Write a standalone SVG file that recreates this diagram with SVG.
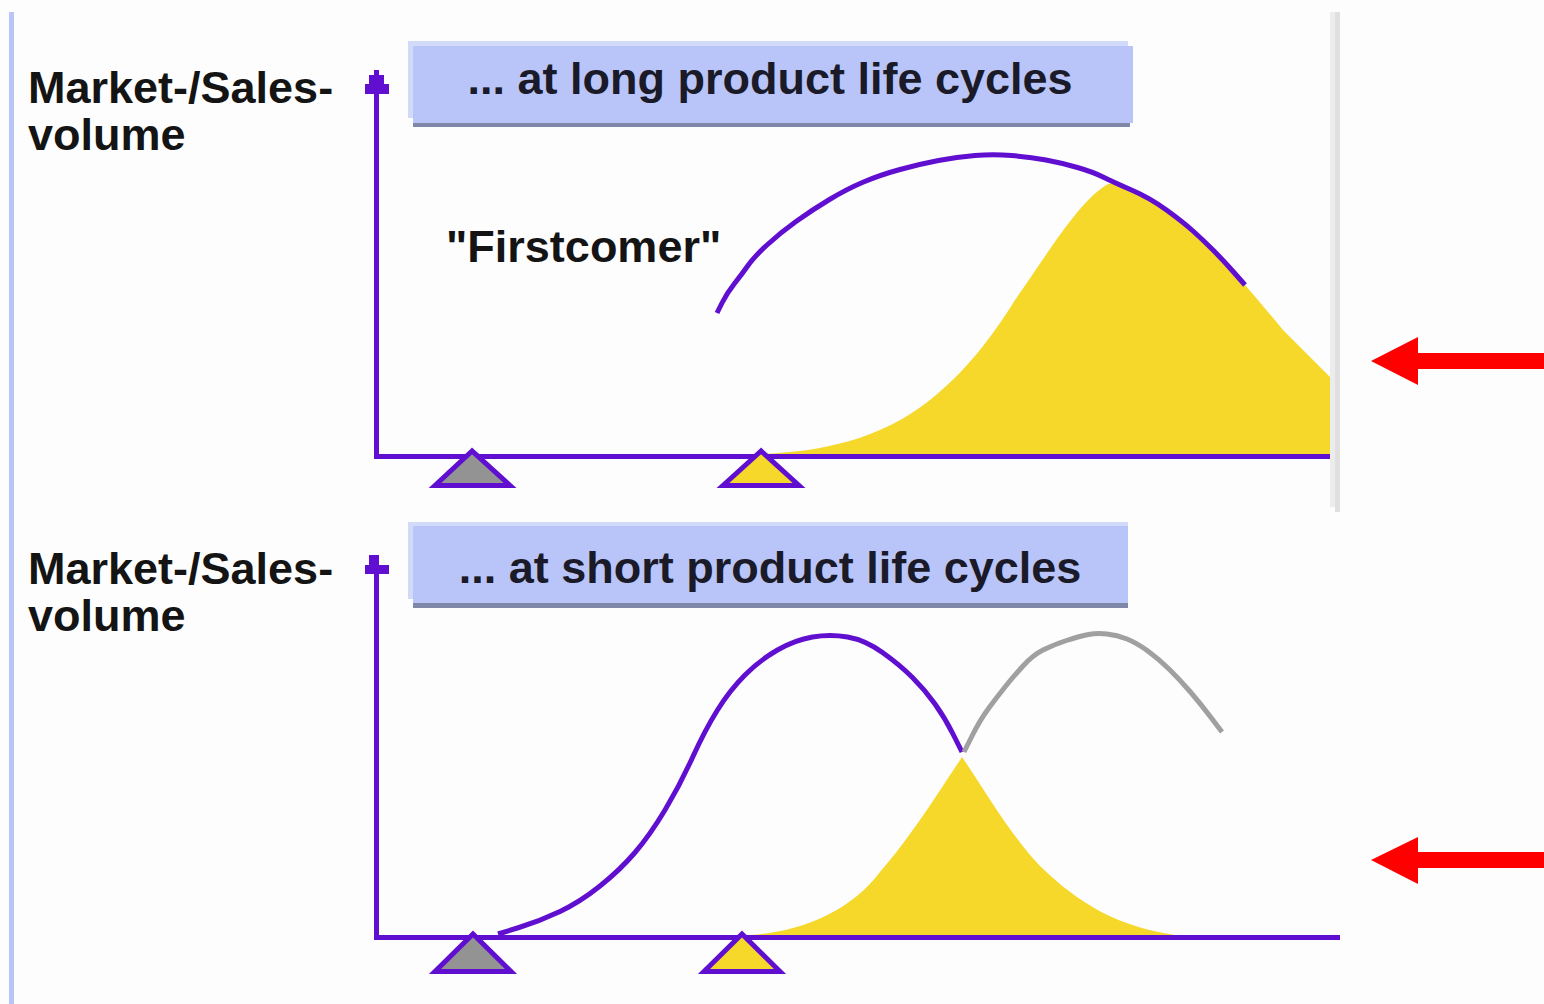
<svg xmlns="http://www.w3.org/2000/svg" width="1544" height="1004" viewBox="0 0 1544 1004">
<style>
  text { font-family: "Liberation Sans", Arial, sans-serif; font-weight: bold; font-size: 45px; fill: #141414; }
  .title { text-anchor: middle; fill: #1a1a28; }
  .axis { stroke: #600fd0; stroke-width: 5; fill: none; }
  .curve { stroke: #600fd0; stroke-width: 5; fill: none; stroke-linejoin: round; stroke-linecap: butt; }
  .gcurve { stroke: #a0a0a0; stroke-width: 5; fill: none; stroke-linejoin: round; }
  .fill { fill: #f5d82a; }
  .tri { stroke: #600fd0; stroke-width: 5; stroke-linejoin: miter; }
  .boxlight { fill: #d2daf9; }
  .box { fill: #b9c5f9; }
  .boxshadow { fill: #7f88a8; }
  .red { fill: #ff0000; }
  .arrowhead { fill: #600fd0; }
</style>
<rect width="1544" height="1004" fill="#fdfdfd"/>
<g id="frame">
  <rect x="9" y="12" width="5" height="992" fill="#b9c5f9"/>
  <rect x="1330" y="12" width="5" height="495" fill="#ececec"/>
  <rect x="1335" y="12" width="5" height="500" fill="#e0e0e0"/>
</g>
<g id="panel-top">
  <g id="top-fill"><path class="fill" d="M760 454 C 820 452, 880 440, 930 400 C 965 372, 990 340, 1015 300 C 1050 250, 1080 200, 1108 184 Q1113 182 1131.5 190 Q1150 198 1166.5 210 Q1183 222 1193 231 Q1203 240 1213 250 Q1223 260 1234 272.5 L1245 285 Q1265 308 1283 330 L1330 377 L1330 454 Z"/></g>
  <g id="top-axes">
    <polyline class="axis" points="376.5,90 376.5,456.5 1330,456.5"/>
    <path class="arrowhead" d="M374 70 H379 V75 H384 V84 H389 V94 H365 V84 H369 V75 H374 Z"/>
  </g>
  <g id="top-title">
    <rect class="boxlight" x="408" y="41" width="720" height="77"/>
    <rect class="box" x="413" y="46" width="720" height="77"/>
    <rect class="boxshadow" x="413" y="123" width="717" height="4"/>
    <text class="title" x="770" y="94">... at long product life cycles</text>
  </g>
  <g id="top-ylabel">
    <text x="28" y="103">Market-/Sales-</text>
    <text x="28" y="150">volume</text>
  </g>
  <g id="top-firstcomer"><text x="446" y="262">"Firstcomer"</text></g>
  <g id="top-curve"><path class="curve" d="M717 313 L722 303 Q727 293 734.5 283.5 Q742 274 748 265.5 Q754 257 767 245 Q780 233 796 221.5 Q812 210 829.5 199.5 Q847 189 863.5 182 Q880 175 900 169.5 Q920 164 938.5 160.5 Q957 157 975 155.5 Q993 154 1011.5 155.5 Q1030 157 1046 160 Q1062 163 1077.5 167.5 Q1093 172 1103 177 Q1113 182 1131.5 190 Q1150 198 1166.5 210 Q1183 222 1193 231 Q1203 240 1213 250 Q1223 260 1234 272.5 L1245 285"/></g>
  <g id="top-tri-gray"><polygon class="tri" fill="#939393" points="472,451 435,485.5 510,485.5"/></g>
  <g id="top-tri-yellow"><polygon class="tri" fill="#f5d82a" points="761,451 723,485.5 799,485.5"/></g>
  <g id="top-arrow"><path class="red" d="M1371 361 L1418 337 L1418 353 L1544 353 L1544 369 L1418 369 L1418 385 Z"/></g>
</g>
<g id="panel-bottom">
  <g id="bottom-curve"><path class="curve" d="M498 934 L519 927.5 Q540 921 560 911.5 Q580 902 600 886 Q620 870 635 852.5 Q650 835 665 810 Q680 785 692.5 757.5 Q705 730 717.5 710 Q730 690 745 675 Q760 660 777.5 650 Q795 640 812.5 637 Q830 634 847.5 637 Q865 640 882.5 652.5 Q900 665 912.5 677.5 Q925 690 935 704 Q945 718 953.5 735 L962 752"/></g>
  <g id="bottom-gray-curve"><path class="gcurve" d="M964 752 L972 736 Q980 720 988.5 708.5 Q997 697 1005 687 Q1013 677 1023 666 Q1033 655 1043 650 Q1053 645 1066.5 640.5 Q1080 636 1088.5 634.5 Q1097 633 1107 634 Q1117 635 1127 639 Q1137 643 1148.5 651.5 Q1160 660 1170 670 Q1180 680 1190 691.5 Q1200 703 1211 717.5 L1222 732"/></g>
  <g id="bottom-fill"><path class="fill" d="M750 935 C 800 932, 850 912, 880 872 C 910 838, 940 790, 962 757 C 985 790, 1010 835, 1040 866 C 1080 905, 1120 927, 1175 935 Z"/></g>
  <g id="bottom-axes">
    <polyline class="axis" points="376.5,570 376.5,937.5 1340,937.5"/>
    <path class="arrowhead" d="M369 555 H379 V565 H389 V574 H365 V565 H369 Z"/>
  </g>
  <g id="bottom-title">
    <rect class="boxlight" x="408" y="522" width="720" height="77"/>
    <rect class="box" x="413" y="526" width="715" height="77"/>
    <rect class="boxshadow" x="413" y="603" width="715" height="5"/>
    <text class="title" x="770" y="583">... at short product life cycles</text>
  </g>
  <g id="bottom-ylabel">
    <text x="28" y="584">Market-/Sales-</text>
    <text x="28" y="631">volume</text>
  </g>
  <g id="bottom-tri-gray"><polygon class="tri" fill="#939393" points="473,934 435,971.5 511,971.5"/></g>
  <g id="bottom-tri-yellow"><polygon class="tri" fill="#f5d82a" points="742,934 704,971.5 780,971.5"/></g>
  <g id="bottom-arrow"><path class="red" d="M1371 860 L1418 837 L1418 852 L1544 852 L1544 868 L1418 868 L1418 884 Z"/></g>
</g>
</svg>
